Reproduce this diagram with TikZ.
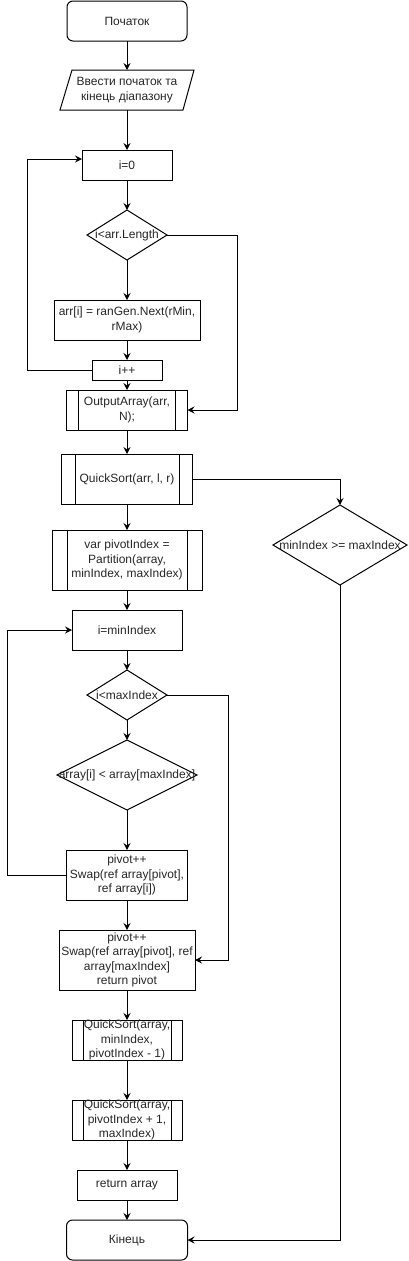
\documentclass[tikz,border=0pt]{standalone}
\usepackage{fontspec}
\setmainfont{Liberation Sans}
\usetikzlibrary{shapes.geometric,arrows.meta,calc}
\begin{document}
\begin{tikzpicture}[x=1pt,y=-1pt,
  every node/.style={font=\fontsize{12}{14.4}\selectfont, inner sep=0pt, outer sep=0pt, align=center, text=black!85},
  proc/.style={draw, line width=1pt, rectangle},
  term/.style={draw, line width=1pt, rectangle, rounded corners=6pt},
  dia/.style={draw, line width=1pt, diamond},
  lw/.style={line width=1pt},
  conn/.style={draw, line width=1pt, -{Stealth[length=7pt,width=7pt,inset=2.5pt]}}
]
\useasboundingbox (0,0) rectangle (408,1261);

% nodes
\node[term, minimum width=120, minimum height=40] (start) at (127,21) {Початок};
\node[minimum width=122, minimum height=40] (in) at (127,90) {Ввести початок та\\кінець діапазону};
\draw[lw] ([xshift=6pt]in.north west) -- ([xshift=6pt]in.north east) -- ([xshift=-5pt]in.south east) -- ([xshift=-6pt]in.south west) -- cycle;
\node[proc, minimum width=90, minimum height=30] (i0) at (127,165) {i=0};
\node[dia, minimum width=80, minimum height=50] (d1) at (127,235) {\makebox[0pt]{i<arr.Length}};
\node[proc, minimum width=146, minimum height=40] (arr) at (127,320) {arr[i] = ranGen.Next(rMin,\\rMax)};
\node[proc, minimum width=70, minimum height=20] (inc) at (127,370) {i++};
\node[proc, minimum width=121, minimum height=40] (out) at (127,410) {OutputArray(arr,\\N);};
\draw[lw] ([xshift=12pt]out.north west) -- ([xshift=12pt]out.south west);
\draw[lw] ([xshift=-12pt]out.north east) -- ([xshift=-12pt]out.south east);

\node[proc, minimum width=131, minimum height=50] (qs) at (127,479) {QuickSort(arr, l, r)};
\draw[lw] ([xshift=14pt]qs.north west) -- ([xshift=14pt]qs.south west);
\draw[lw] ([xshift=-13pt]qs.north east) -- ([xshift=-13pt]qs.south east);

\node[dia, minimum width=134, minimum height=80] (d2) at (340,545) {\makebox[0pt]{minIndex >= maxIndex}};

\node[proc, minimum width=150, minimum height=60] (part) at (127,560) {var pivotIndex =\\Partition(array,\\minIndex, maxIndex)};
\draw[lw] ([xshift=15pt]part.north west) -- ([xshift=15pt]part.south west);
\draw[lw] ([xshift=-15pt]part.north east) -- ([xshift=-15pt]part.south east);

\node[proc, minimum width=110, minimum height=40] (imin) at (127,630) {i=minIndex};
\node[dia, minimum width=80, minimum height=50] (d3) at (127,695) {\makebox[0pt]{i<maxIndex}};
\node[dia, minimum width=140, minimum height=70] (d4) at (127,775) {\makebox[0pt]{array[i] < array[maxIndex]}};
\node[proc, minimum width=121, minimum height=50] (piv) at (127,875) {pivot++\\Swap(ref array[pivot],\\ref array[i])};
\node[proc, minimum width=136, minimum height=60] (piv2) at (127,960) {pivot++\\Swap(ref array[pivot], ref\\array[maxIndex]\\return pivot};

\node[proc, minimum width=110, minimum height=40] (qs2) at (127,1040) {QuickSort(array,\\minIndex,\\pivotIndex - 1)};
\draw[lw] ([xshift=11pt]qs2.north west) -- ([xshift=11pt]qs2.south west);
\draw[lw] ([xshift=-11pt]qs2.north east) -- ([xshift=-11pt]qs2.south east);

\node[proc, minimum width=110, minimum height=40] (qs3) at (127,1120) {QuickSort(array,\\pivotIndex + 1,\\maxIndex)};
\draw[lw] ([xshift=11pt]qs3.north west) -- ([xshift=11pt]qs3.south west);
\draw[lw] ([xshift=-11pt]qs3.north east) -- ([xshift=-11pt]qs3.south east);

\node[proc, minimum width=100, minimum height=30] (ret) at (127,1185) {return array};
\node[term, minimum width=121, minimum height=40] (end) at (127,1240) {Кінець};

% helper coordinates for routing
\coordinate (l1) at (27,0);
\coordinate (r1) at (237,0);
\coordinate (l2) at (7,0);
\coordinate (r2) at (228,0);

% connectors
\draw[conn] (start.south) -- (in.north);
\draw[conn] (in.south) -- (i0.north);
\draw[conn] (i0.south) -- (d1.north);
\draw[conn] (d1.south) -- (arr.north);
\draw[conn] (arr.south) -- (inc.north);
\draw[conn] (inc.west) -- (inc.west -| l1) -- ([yshift=6pt]i0.west -| l1) -- ([yshift=6pt]i0.west);
\draw[conn] (inc.south) -- (out.north);
\draw[conn] (d1.east) -- (d1.east -| r1) |- (out.east);
\draw[conn] (out.south) -- (qs.north);
\draw[conn] (qs.east) -| (d2.north);
\draw[conn] (d2.south) |- (end.east);
\draw[conn] (qs.south) -- (part.north);
\draw[conn] (part.south) -- (imin.north);
\draw[conn] (imin.south) -- (d3.north);
\draw[conn] (d3.south) -- (d4.north);
\draw[conn] (d4.south) -- (piv.north);
\draw[conn] (piv.west) -- (piv.west -| l2) |- (imin.west);
\draw[conn] (d3.east) -- (d3.east -| r2) |- (piv2.east);
\draw[conn] (piv.south) -- (piv2.north);
\draw[conn] (piv2.south) -- (qs2.north);
\draw[conn] (qs2.south) -- (qs3.north);
\draw[conn] (qs3.south) -- (ret.north);
\draw[conn] (ret.south) -- (end.north);
\end{tikzpicture}
\end{document}
